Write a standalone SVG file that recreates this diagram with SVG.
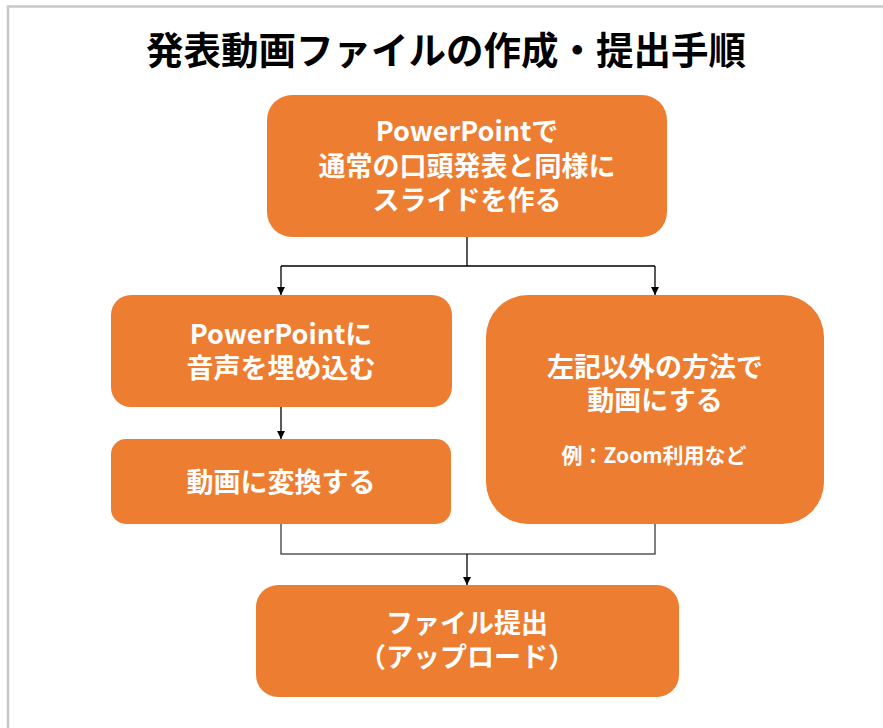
<svg xmlns="http://www.w3.org/2000/svg" width="883" height="728" viewBox="0 0 883 728">
<style>
.node{fill:#ED7D31}
.t{font-family:"Noto Sans CJK JP","Noto Sans",sans-serif;font-weight:bold;fill:#ffffff;font-size:27px;text-anchor:middle}
.s{font-size:21px}
.title{font-family:"Noto Sans CJK JP",sans-serif;font-weight:bold;fill:#000;font-size:37.5px;text-anchor:middle}
.c{fill:none;stroke:#000;stroke-width:1.3}
.c2{fill:none;stroke:#555;stroke-width:1.5}
</style>
<defs>
<marker id="arr" viewBox="0 0 10 10" refX="10" refY="5" markerWidth="9" markerHeight="8" markerUnits="userSpaceOnUse" orient="auto">
<path d="M0,0 L10,5 L0,10 Z" fill="#000"/>
</marker>
</defs>
<rect x="0" y="0" width="883" height="728" fill="#ffffff"/>
<path d="M8,740 L8,6.5 L890,6.5" fill="none" stroke="#c8c8c8" stroke-width="2.5"/>
<text class="title" x="446" y="64">発表動画ファイルの作成・提出手順</text>
<g id="connectors">
<path class="c" d="M467,237 L467,266 M281,266 L655,266"/>
<path class="c" d="M281,266 L281,295" marker-end="url(#arr)"/>
<path class="c" d="M655,266 L655,295" marker-end="url(#arr)"/>
<path class="c" d="M281,407 L281,439" marker-end="url(#arr)"/>
<path class="c2" d="M281,524 L281,554 L655,554 L655,524"/>
<path class="c" d="M467,554 L467,585" marker-end="url(#arr)"/>
</g>
<g id="n1">
<rect class="node" x="267" y="95" width="400" height="142" rx="25"/>
<text class="t" x="467" y="141">PowerPointで</text>
<text class="t" x="467" y="176">通常の口頭発表と同様に</text>
<text class="t" x="467" y="210">スライドを作る</text>
</g>
<g id="n2">
<rect class="node" x="111" y="295" width="341" height="112" rx="20"/>
<text class="t" x="281" y="344">PowerPointに</text>
<text class="t" x="281" y="378">音声を埋め込む</text>
</g>
<g id="n3">
<rect class="node" x="111" y="439" width="340" height="85" rx="15"/>
<text class="t" x="281" y="492">動画に変換する</text>
</g>
<g id="n4">
<rect class="node" x="486" y="295" width="338" height="229" rx="42"/>
<text class="t" x="655" y="377">左記以外の方法で</text>
<text class="t" x="655" y="410">動画にする</text>
<text class="t s" x="654" y="463">例：Zoom利用など</text>
</g>
<g id="n5">
<rect class="node" x="256" y="585" width="423" height="112" rx="22"/>
<text class="t" x="467" y="633">ファイル提出</text>
<text class="t" x="467" y="667">（アップロード）</text>
</g>
</svg>
